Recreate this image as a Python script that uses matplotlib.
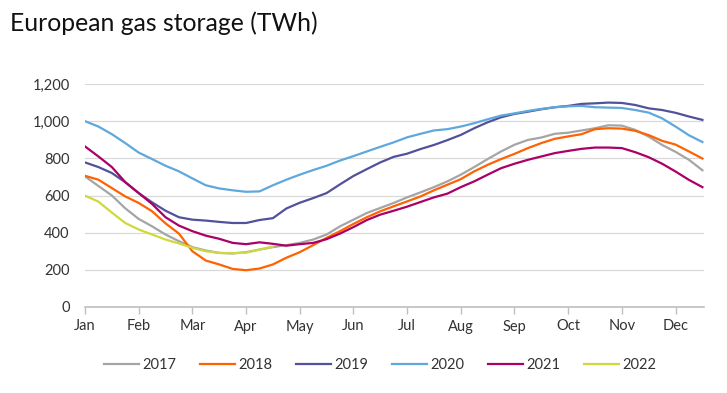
import numpy as np
import matplotlib
matplotlib.use("Agg")
import matplotlib.pyplot as plt

months = ["Jan", "Feb", "Mar", "Apr", "May", "Jun", "Jul", "Aug", "Sep", "Oct", "Nov", "Dec"]
# sample positions in months after 1 Jan (quarter-month steps)
x_pos = [i * 0.25 for i in range(47)]

s2017 = [703, 651, 600, 531, 474, 434, 390, 354, 322, 304, 291, 288, 295, 309, 322, 333,
         345, 363, 390, 434, 470, 506, 533, 560, 590, 617, 645, 676, 712, 753, 796, 837,
         873, 899, 912, 932, 938, 950, 962, 978, 976, 953, 917, 872, 835, 792, 736]
s2018 = [706, 685, 640, 595, 560, 515, 450, 395, 300, 250, 229, 205, 198, 207, 229, 265,
         295, 333, 372, 408, 447, 483, 515, 542, 568, 595, 628, 658, 688, 730, 765, 796,
         824, 855, 882, 905, 918, 930, 957, 962, 960, 948, 925, 894, 874, 837, 799]
s2019 = [778, 753, 721, 671, 613, 563, 518, 483, 470, 465, 458, 452, 452, 468, 478, 530,
         561, 586, 613, 660, 705, 742, 778, 808, 825, 850, 872, 898, 926, 962, 994, 1021,
         1039, 1051, 1064, 1075, 1082, 1093, 1096, 1100, 1098, 1087, 1069, 1060, 1045, 1025, 1007]
s2020 = [1000, 971, 930, 882, 831, 796, 760, 730, 692, 655, 638, 628, 620, 622, 655, 685,
         712, 737, 760, 788, 812, 837, 862, 886, 913, 932, 950, 957, 971, 989, 1010, 1030,
         1042, 1055, 1066, 1075, 1080, 1082, 1075, 1073, 1071, 1060, 1046, 1015, 971, 924, 888]
s2021 = [864, 810, 753, 672, 613, 554, 483, 438, 408, 384, 367, 345, 338, 348, 340, 330,
         338, 345, 365, 395, 430, 468, 497, 518, 540, 565, 590, 610, 645, 676, 712, 747,
         771, 792, 810, 828, 840, 851, 858, 858, 855, 833, 806, 771, 729, 684, 645]
s2022 = [599, 567, 508, 452, 417, 390, 363, 342, 318, 300, 291, 290, 292, 309, 325]

series = [
    ("2017", s2017, "#a5a5a5"),
    ("2018", s2018, "#ff6200"),
    ("2019", s2019, "#525199"),
    ("2020", s2020, "#5fa8dc"),
    ("2021", s2021, "#ab0066"),
    ("2022", s2022, "#d0d93c"),
]

plt.rcParams['font.family'] = ['Lato', 'DejaVu Sans']

fig = plt.figure(figsize=(7.27, 3.93), dpi=100)
ax = fig.add_axes([85 / 727, 1 - 307 / 393, (704 - 85) / 727, (307 - 84) / 393])

for label, vals, color in series:
    ax.plot(x_pos[:len(vals)], vals, color=color, lw=1.6, label=label, solid_joinstyle='round')

ax.set_xlim(0, 11.53)
ax.set_ylim(0, 1200)
ax.set_yticks(range(0, 1201, 200))
ax.set_yticklabels([f"{v:,}" for v in range(0, 1201, 200)])
ax.set_xticks(range(12))
ax.set_xticklabels(months)
ax.yaxis.grid(True, color="#d9d9d9", lw=0.9)
ax.set_axisbelow(True)
for sp in ["top", "right", "left"]:
    ax.spines[sp].set_visible(False)
ax.spines["bottom"].set_color("#bfbfbf")
ax.spines["bottom"].set_linewidth(1.2)
ax.tick_params(axis="y", length=0, pad=11, labelsize=10.5, labelcolor="#333333")
ax.tick_params(axis="x", length=5, color="#bfbfbf", width=1, pad=4, labelsize=10.5, labelcolor="#333333")

fig.text(10 / 727, 1 - 23 / 393, "European gas storage (TWh)", fontsize=17.8, color="#111111",
         va="center", ha="left")

fig.legend(loc="center", bbox_to_anchor=(380 / 727, 1 - 365 / 393), ncol=6, frameon=False,
           fontsize=10.5, handlelength=2.4, handletextpad=0.25, columnspacing=1.6,
           labelcolor="#333333")

fig.savefig("out.png", dpi=100)
